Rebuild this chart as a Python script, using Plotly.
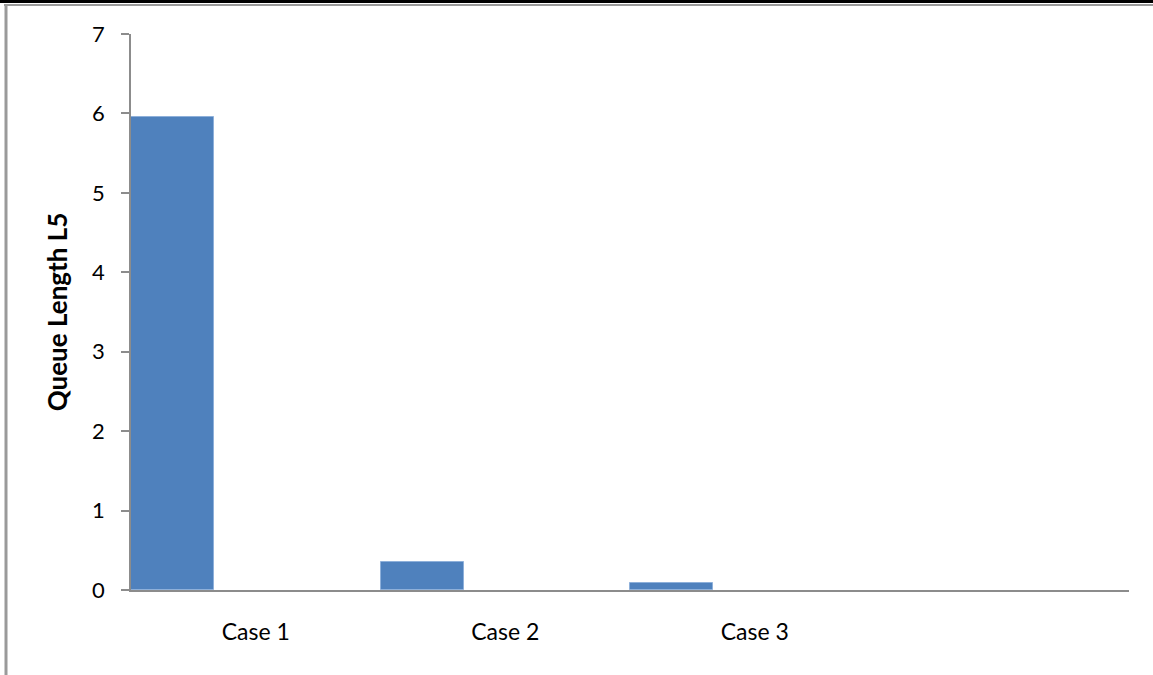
import plotly.graph_objects as go

# Queue length L5 per case
cases = ["Case 1", "Case 2", "Case 3"]
queue_length = [5.96, 0.35, 0.085]
y_ticks = [0, 1, 2, 3, 4, 5, 6, 7]

W, H = 1153, 675
ml, mr, mt, mb = 131, 24, 34, 85
plot_h = H - mt - mb
plot_w = W - ml - mr

n_slots = 4  # category slots on the axis (last one empty)
idx = list(range(len(cases)))
bar_x = [i + 1 / 6 for i in idx]
label_x = [i + 0.5 for i in idx]

fig = go.Figure()
fig.add_trace(go.Bar(
    x=bar_x, y=queue_length, width=1 / 3,
    marker=dict(color="#4F81BD", line=dict(color="#8EB0DA", width=1)),
    showlegend=False, hoverinfo="y",
))

def py(px):
    return (H - mb - px) / plot_h

def px_x(px):
    return (px - ml) / plot_w

line_gray = "#8C8C8C"
shapes = [
    dict(type="line", xref="paper", yref="paper", x0=px_x(0), x1=px_x(W),
         y0=py(1.5), y1=py(1.5), line=dict(color="black", width=3)),
    dict(type="line", xref="paper", yref="paper", x0=px_x(4), x1=px_x(W),
         y0=py(5), y1=py(5), line=dict(color="#9A9A9A", width=2)),
    dict(type="line", xref="paper", yref="paper", x0=px_x(6), x1=px_x(6),
         y0=py(4), y1=py(H), line=dict(color="#9A9A9A", width=3)),
]

fig.update_layout(
    width=W, height=H,
    margin=dict(l=ml, r=mr, t=mt, b=mb),
    paper_bgcolor="white", plot_bgcolor="white",
    font=dict(family="Lato, 'Open Sans', sans-serif", size=20, color="black"),
    shapes=shapes,
    bargap=0,
    xaxis=dict(
        range=[0, n_slots], tickmode="array", tickvals=label_x, ticktext=cases,
        showgrid=False, zeroline=False, showline=True, linecolor=line_gray,
        linewidth=1.5, ticks="", ticklabelstandoff=21,
        tickfont=dict(size=23),
    ),
    yaxis=dict(
        range=[0, 7], tickmode="array", tickvals=y_ticks,
        showgrid=False, zeroline=False, showline=True, linecolor=line_gray,
        linewidth=1.5, ticks="outside", ticklen=8, tickcolor=line_gray,
        tickwidth=1.5, ticklabelstandoff=12, tickfont=dict(size=22),
        title=dict(text="<b>Queue Length L5</b>", font=dict(size=26), standoff=17),
    ),
)

fig.write_html("out.html")
